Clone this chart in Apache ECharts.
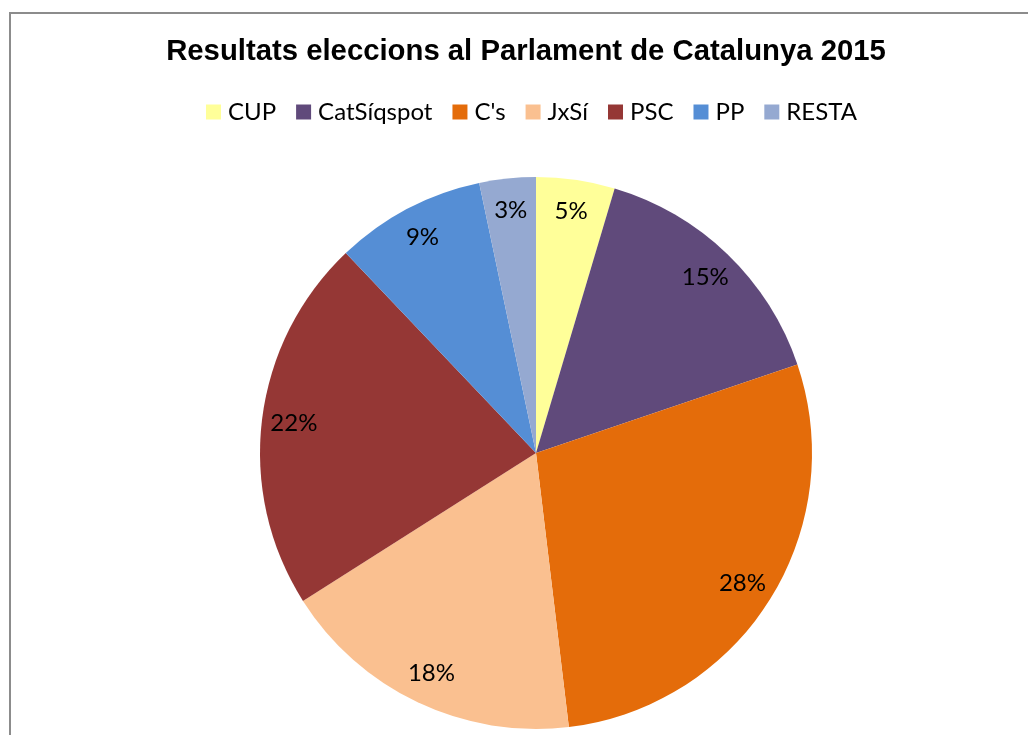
<!DOCTYPE html>
<html>
<head>
<meta charset="utf-8">
<script src="https://cdn.jsdelivr.net/npm/echarts@6/dist/echarts.min.js"></script>
<style>html,body{margin:0;padding:0;background:#fff;}#c{width:1028px;height:735px;}</style>
</head>
<body>
<div id="c"></div>
<script>
const categories = ['CUP', 'CatSíqspot', "C's", 'JxSí', 'PSC', 'PP', 'RESTA'];
const values = [4.6, 15.2, 28.3, 17.9, 21.9, 8.8, 3.3];
const colors = ['#FFFF99', '#604A7B', '#E46C0A', '#FAC090', '#953735', '#558ED5', '#95A9D1'];

const chart = echarts.init(document.getElementById('c'));
const data = categories.map((n, i) => ({ name: n, value: values[i], itemStyle: { color: colors[i] } }));
const labelData = categories.map((n, i) => ({ name: n, value: values[i], itemStyle: { color: 'rgba(0,0,0,0)' } }));
chart.setOption({
  animation: false,
  backgroundColor: '#fff',
  title: {
    text: 'Resultats eleccions al Parlament de Catalunya 2015',
    left: 521, top: 32, textAlign: 'center',
    textStyle: { fontFamily: 'Liberation Sans, Arial', fontWeight: 'bold', fontSize: 29.3, color: '#000' }
  },
  legend: {
    data: categories,
    left: 201, top: 95,
    icon: 'rect', itemWidth: 15, itemHeight: 15, itemGap: 20,
    textStyle: { fontFamily: 'Lato', fontSize: 24, color: '#000', padding: [0, 0, 0, 2] }
  },
  graphic: [{
    type: 'rect', shape: { x: 10, y: 13, width: 1040, height: 760 },
    style: { fill: null, stroke: '#8c8c8c', lineWidth: 2 }, silent: true, z: -1
  }],
  series: [{
    type: 'pie', center: [536, 453], radius: [0, 276],
    startAngle: 90, clockwise: true,
    label: { show: false }, labelLine: { show: false },
    itemStyle: { borderWidth: 0 },
    data: data
  }, {
    type: 'pie', center: [536, 453], radius: [206, 276],
    startAngle: 90, clockwise: true, silent: true,
    label: {
      show: true, position: 'inside',
      fontFamily: 'Lato', fontSize: 24, color: '#000',
      formatter: p => Math.round(p.percent) + '%'
    },
    labelLine: { show: false },
    itemStyle: { borderWidth: 0 },
    data: labelData
  }]
});
</script>
</body>
</html>
